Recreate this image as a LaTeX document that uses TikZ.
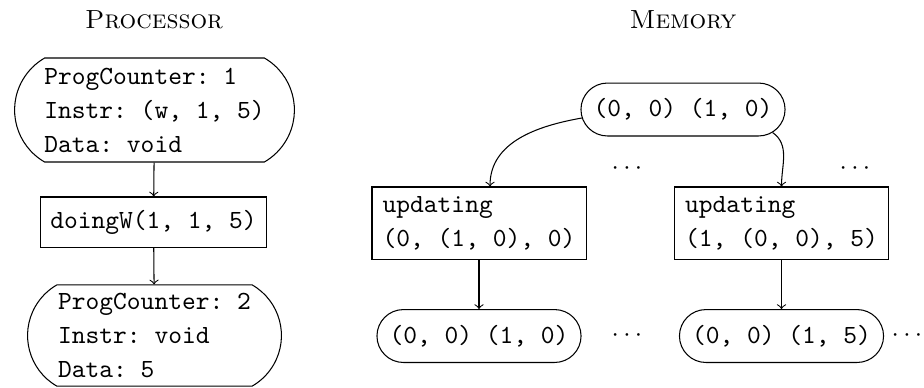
\documentclass[tikz,border=0pt]{standalone}
\usetikzlibrary{shapes.misc}
\begin{document}
\begin{tikzpicture}[x=0.3817pt,y=-0.3817pt,
  title/.style={inner sep=0pt, font=\scshape},
  bigstate/.style={rounded rectangle, draw, rounded rectangle arc length=120,
     align=left, font=\ttfamily\frenchspacing, inner xsep=1pt, inner ysep=0pt,
     minimum height=#1},
  smallstate/.style={rectangle, draw, rounded corners=10.1pt,
     font=\ttfamily\frenchspacing, inner sep=0pt, minimum width=77.9pt,
     minimum height=20.2pt},
  actbox/.style={rectangle, draw, align=left, font=\ttfamily\frenchspacing,
     inner xsep=0pt, inner ysep=0pt},
  dotsnode/.style={inner sep=0pt},
  arr/.style={->}
]
\useasboundingbox (0,0) rectangle (924,387);

\node[title] (tp) at (154,20) {Processor};
\node[title] (tm) at (683,20) {Memory};

% processor
\node[bigstate=39.7pt, minimum width=108.8pt] (p1) at (154.5,110)
  {ProgCounter: 1\\[1pt]Instr: (w, 1, 5)\\[1pt]Data: void};
\node[actbox, minimum width=86.6pt, minimum height=19.1pt] (p2) at (153.5,222)
  {doingW(1, 1, 5)};
\node[bigstate=38.6pt, minimum width=98.9pt] (p3) at (154.5,335.5)
  {ProgCounter: 2\\[1pt]Instr: void\\[1pt]Data: 5};
\draw[arr] (p1) -- (p2);
\draw[arr] (p2) -- (p3);

% memory
\node[smallstate] (m0) at (683,109.5) {(0, 0) (1, 0)};
\node[actbox, minimum width=81.7pt, minimum height=27.5pt] (u1) at (479,223)
  {updating\\[1pt](0, (1, 0), 0)};
\node[actbox, minimum width=81.7pt, minimum height=27.5pt] (u2) at (781.5,223)
  {updating\\[1pt](1, (0, 0), 5)};
\node[smallstate] (b1) at (479,336) {(0, 0) (1, 0)};
\node[smallstate] (b2) at (781.5,336) {(0, 0) (1, 5)};

\coordinate (s1) at ([shift={(1.4,8.5)}]m0.west);
\coordinate (s2) at ([shift={(-13,-4)}]m0.south east);
\coordinate (e1) at ([xshift=4.2pt]u1.north);
\draw[arr] (s1) to[out=190,in=90] (e1);
\draw[arr] (s2) to[out=-35,in=90] (u2.north);
\draw[arr] (u1) -- (b1);
\draw[arr] (u2) -- (b2);

\node[dotsnode] (d1) at (627,169) {$\cdots$};
\node[dotsnode] (d2) at (855,169) {$\cdots$};
\node[dotsnode] (d3) at (627,336) {$\cdots$};
\node[dotsnode] (d4) at (907,336) {$\cdots$};
\end{tikzpicture}
\end{document}
